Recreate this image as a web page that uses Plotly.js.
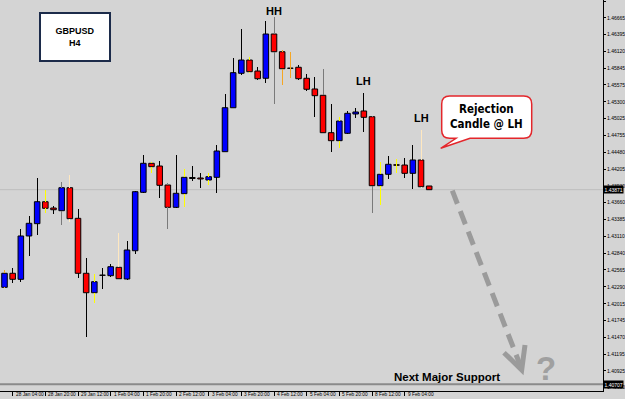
<!DOCTYPE html>
<html><head><meta charset="utf-8">
<script src="https://cdn.plot.ly/plotly-3.0.1.min.js"></script>
<style>
html,body{margin:0;padding:0;background:#d4d4d4}
#chart{width:625px;height:399px}
#chart .js-line{shape-rendering:crispEdges}
</style>
</head><body><div id="chart"></div>
<script>
// ---- Data (GBPUSD H4 candles, index 0 = 28 Jan 00:00) ----
const OPEN  = [1.42283,1.42511,1.42413,1.43118,1.43318,1.43675,1.43573,1.43529,1.43903,1.43405,
               1.42511,1.42195,1.42478,1.42472,1.42608,1.42418,1.42878,1.43828,1.44300,1.44256,
               1.43947,1.43584,1.43806,1.44069,1.44061,1.44028,1.44072,1.44489,1.45204,1.45764,
               1.45980,1.45801,1.45683,1.46403,1.46115,1.45845,1.45862,1.45683,1.45509,1.45406,
               1.44798,1.44668,1.44788,1.45102,1.45151,1.45058,1.43936,1.44121,1.44277,1.44272,
               1.44137,1.44354,1.43931];
const HIGH  = [1.42564,1.42602,1.43231,1.43443,1.44056,1.43866,1.43606,1.44001,1.44110,1.43562,
               1.42765,1.42499,1.42602,1.42662,1.43171,1.43041,1.43854,1.44435,1.44326,1.44337,
               1.43975,1.44435,1.44207,1.44256,1.44137,1.44137,1.44598,1.45427,1.46008,1.46480,
               1.46024,1.45871,1.46615,1.46675,1.46143,1.46115,1.45899,1.45753,1.45699,1.45834,
               1.45265,1.45058,1.45151,1.45195,1.45448,1.45066,1.44326,1.44419,1.44365,1.44381,
               1.44598,1.44842,1.43931];
const LOW   = [1.42272,1.42358,1.42374,1.42797,1.43134,1.43487,1.43475,1.43296,1.43350,1.42429,
               1.41470,1.42033,1.42250,1.42455,1.42413,1.42402,1.42830,1.43812,1.44137,1.43741,
               1.43231,1.43568,1.43594,1.44012,1.43893,1.43947,1.43812,1.44476,1.45195,1.45736,
               1.45774,1.45655,1.45601,1.45265,1.45574,1.45683,1.45655,1.45481,1.45048,1.44795,
               1.44489,1.44544,1.44780,1.45032,1.44814,1.43497,1.43622,1.44040,1.44147,1.44066,
               1.43877,1.43893,1.43871];
const CLOSE = [1.42511,1.42413,1.43118,1.43324,1.43675,1.43568,1.43545,1.43903,1.43399,1.42511,
               1.42195,1.42374,1.42478,1.42618,1.42423,1.42890,1.43838,1.44300,1.44245,1.43942,
               1.43584,1.43812,1.44072,1.44053,1.44045,1.44082,1.44500,1.45204,1.45774,1.45980,
               1.45790,1.45676,1.46403,1.46115,1.45839,1.45845,1.45676,1.45504,1.45400,1.44798,
               1.44668,1.44988,1.45113,1.45135,1.45048,1.43936,1.44121,1.44284,1.44268,1.44137,
               1.44354,1.43919,1.43871];
const TIME_TICK_INDEX  = [1,5,9,13,17,21,25,29,33,37,41,45,49];
const TIME_TICK_LABELS = ["28 Jan 04:00","28 Jan 20:00","29 Jan 12:00","1 Feb 04:00","1 Feb 20:00",
                          "2 Feb 12:00","3 Feb 04:00","3 Feb 20:00","4 Feb 12:00","5 Feb 04:00",
                          "5 Feb 20:00","8 Feb 12:00","9 Feb 04:00"];
const PRICE_TICKS = [1.46940,1.46665,1.46395,1.46120,1.45845,1.45575,1.45300,1.45025,1.44755,1.44480,
                     1.44205,1.43930,1.43660,1.43385,1.43110,1.42840,1.42565,1.42290,1.42015,1.41745,
                     1.41470,1.41195,1.40925,1.40650];
const BID_PRICE = 1.43871;
const SUPPORT_PRICE = 1.40707;
const HH_INDEX = 33, LH1_INDEX = 44, LH2_INDEX = 51;

// ---- Styles (kept apart from the data) ----
const WICK_STYLE = ["o","k","k","k","k","y","k","g","p","k","k","y","k","k","p","k","k","k","y","k",
                    "g","k","y","k","k","y","k","k","k","k","y","k","k","g","o","o","k","k","k","g",
                    "k","y","k","k","k","g","y","k","y","k","k","p","k"];
const WICK_COLORS = {k:"#000000", g:"#7a7a7a", y:"#ffff00", o:"#f5a623", p:"#ffe8c0"};

const W = 625, H = 399, MR = 22, MB = 8;
const PW = W - MR, PH = H - MB;
const px = v => v / PW;          // pixel -> paper x
const py = v => 1 - v / PH;      // pixel -> paper y

const idx = OPEN.map((_, i) => i);
const traces = [];

// wicks (upper and lower segments so they don't cross bodies)
Object.keys(WICK_COLORS).forEach(key => {
  const xs = [], ys = [];
  idx.forEach(i => {
    if (WICK_STYLE[i] !== key) return;
    const top = Math.max(OPEN[i], CLOSE[i]), bot = Math.min(OPEN[i], CLOSE[i]);
    if (HIGH[i] > top) { xs.push(i, i, null); ys.push(top, HIGH[i], null); }
    if (LOW[i] < bot)  { xs.push(i, i, null); ys.push(LOW[i], bot, null); }
  });
  if (xs.length) traces.push({type:"scatter", mode:"lines", x:xs, y:ys, hoverinfo:"skip",
    line:{color:WICK_COLORS[key], width:1}, connectgaps:false});
});

// bodies
traces.push({
  type:"bar", x:idx, hoverinfo:"skip",
  base: idx.map(i => Math.min(OPEN[i], CLOSE[i])),
  y: idx.map(i => Math.max(Math.abs(CLOSE[i]-OPEN[i]), 0.00003)),
  width: 0.68,
  marker:{
    color: idx.map(i => CLOSE[i] > OPEN[i] ? "#0000ff" : (CLOSE[i] < OPEN[i] ? "#ff0000" : "#000000")),
    line:{color:"#000000", width:1}
  }
});

// callout path (rounded box with tail), pixel -> paper
function P(x, y){ return px(x).toFixed(5) + "," + py(y).toFixed(5); }
const bx0=441.7, bx1=531.7, by0=96, by1=138.3, r=8;
const callout = "M" + P(bx0+r,by0) + " L" + P(bx1-r,by0) + " Q" + P(bx1,by0) + " " + P(bx1,by0+r) +
  " L" + P(bx1,by1-r) + " Q" + P(bx1,by1) + " " + P(bx1-r,by1) +
  " L" + P(470,by1) + " L" + P(440.7,148.3) + " L" + P(456,by1) +
  " L" + P(bx0+r,by1) + " Q" + P(bx0,by1) + " " + P(bx0,by1-r) +
  " L" + P(bx0,by0+r) + " Q" + P(bx0,by0) + " " + P(bx0+r,by0) + " Z";

const shapes = [
  {type:"line", xref:"paper", yref:"y", x0:0, x1:1, y0:BID_PRICE, y1:BID_PRICE, layer:"below",
   line:{color:"#bdbdbd", width:1}},
  {type:"line", xref:"paper", yref:"y", x0:0, x1:1, y0:SUPPORT_PRICE, y1:SUPPORT_PRICE,
   line:{color:"#8a8a8a", width:2}},
  {type:"line", xref:"paper", yref:"paper", x0:px(452.3), y0:py(190.7), x1:px(520.5), y1:py(366),
   line:{color:"#9b9b9b", width:5, dash:"14px,8px"}},
  {type:"path", xref:"paper", yref:"paper", path:"M"+P(504,352.7)+" L"+P(521.7,370)+" L"+P(525,345),
   line:{color:"#9b9b9b", width:5}},
  {type:"path", xref:"paper", yref:"paper", path:callout, fillcolor:"#ffffff",
   line:{color:"#e3262b", width:1.5}}
];

const FAM = "Liberation Sans, Arial, sans-serif";
const boldFont = (size, color) => ({family:FAM, size:size, color:color||"#000"});
const C = {xanchor:"center", yanchor:"middle", showarrow:false};
const annotations = [
  Object.assign({xref:"paper", yref:"paper", x:px(74.5), y:py(37.3),
   text:"<b>GBPUSD</b><br><b>H4</b>", font:boldFont(9), width:68, height:46,
   bgcolor:"#ffffff", bordercolor:"#1c2b4a", borderwidth:2, borderpad:0}, C),
  Object.assign({xref:"x", yref:"paper", x:HH_INDEX, y:py(11), text:"<b>HH</b>", font:boldFont(11)}, C),
  Object.assign({xref:"x", yref:"paper", x:LH1_INDEX, y:py(81.5), text:"<b>LH</b>", font:boldFont(11)}, C),
  Object.assign({xref:"x", yref:"paper", x:LH2_INDEX, y:py(117.5), text:"<b>LH</b>", font:boldFont(11)}, C),
  Object.assign({xref:"paper", yref:"paper", x:px(486.7), y:py(116.8),
   text:"<b>Rejection</b><br><b>Candle @ LH</b>",
   font:{family:"Liberation Sans Narrow, Arial Narrow, DejaVu Sans Condensed, sans-serif", size:11.5, color:"#000"}}, C),
  Object.assign({xref:"paper", yref:"paper", x:px(446.5), y:py(376.5),
   text:"<b>Next Major Support</b>", font:boldFont(11.5)}, C),
  Object.assign({xref:"paper", yref:"paper", x:px(546), y:py(368), text:"<b>?</b>", font:boldFont(33, "#a0a0a0")}, C),
  {xref:"paper", yref:"y", x:1, y:BID_PRICE, xanchor:"left", yanchor:"middle", showarrow:false, xshift:0,
   text:BID_PRICE.toFixed(5), bgcolor:"#000000", borderpad:0.5,
   font:{family:FAM, size:5, color:"#ffffff"}},
  {xref:"paper", yref:"y", x:1, y:SUPPORT_PRICE, xanchor:"left", yanchor:"middle", showarrow:false, xshift:0,
   text:SUPPORT_PRICE.toFixed(5), bgcolor:"#000000", borderpad:0.5,
   font:{family:FAM, size:5, color:"#ffffff"}}
];
// time labels, left-aligned right of each tick (MetaTrader style)
TIME_TICK_INDEX.forEach((ti, k) => annotations.push({
  xref:"x", yref:"paper", x:ti, y:py(394.5), xanchor:"left", yanchor:"middle", xshift:1,
  showarrow:false, text:TIME_TICK_LABELS[k], font:{family:FAM, size:4.8, color:"#000"}
}));

// axis ranges from pixel geometry: index 0 at x=4.5px, 8.167px per bar; price scale 0.00016266 per px
const BAR_PX = 8.167, X0_PX = 4.5, PRICE_PER_PX = 0.00016266, TOP_PRICE = PRICE_TICKS[0] + PRICE_PER_PX;
const layout = {
  width:W, height:H, margin:{l:0, r:MR, t:0, b:MB, pad:0},
  paper_bgcolor:"#d4d4d4", plot_bgcolor:"#d4d4d4", showlegend:false, bargap:0,
  xaxis:{range:[-X0_PX/BAR_PX, (PW-X0_PX)/BAR_PX], showgrid:false, zeroline:false, automargin:false,
    showline:true, linecolor:"#000", linewidth:1, ticks:"outside", ticklen:4, tickcolor:"#000", tickwidth:1,
    tickmode:"array", tickvals:TIME_TICK_INDEX, showticklabels:false, fixedrange:true},
  yaxis:{side:"right", range:[TOP_PRICE - PH*PRICE_PER_PX, TOP_PRICE], showgrid:false, zeroline:false,
    automargin:false, showline:true, linecolor:"#000", linewidth:1, ticks:"outside", ticklen:2,
    tickcolor:"#000", tickmode:"array", tickvals:PRICE_TICKS, ticktext:PRICE_TICKS.map(v => v.toFixed(5)),
    tickfont:{family:FAM, size:5, color:"#000"}, fixedrange:true},
  shapes:shapes, annotations:annotations
};
Plotly.newPlot("chart", traces, layout, {staticPlot:true, displayModeBar:false});
</script></body></html>
